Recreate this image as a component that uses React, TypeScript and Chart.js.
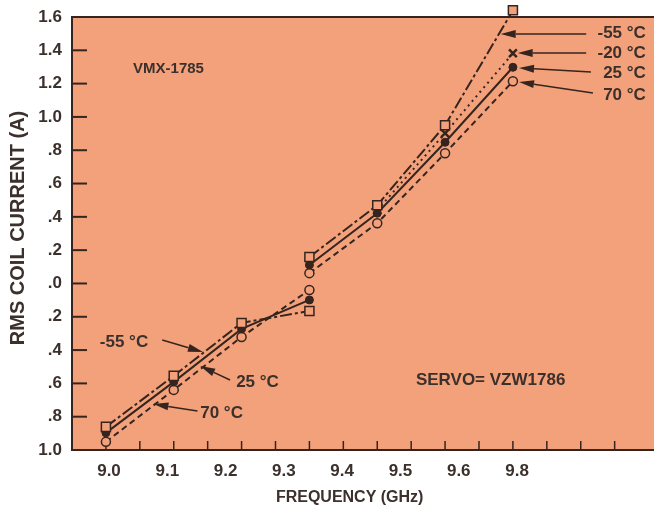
import React, { useEffect, useRef } from 'react';
import { Chart, registerables } from 'chart.js';

Chart.register(...registerables);

// ---- data (y values are positions on the printed axis, which runs 1.0 … .0 … 1.6) ----
const frequencies = [9.0, 9.1, 9.2, 9.3, 9.3, 9.3, 9.4, 9.5, 9.6];
const currentMinus55 = [-0.861, -0.555, -0.237, -0.165, null, 0.159, 0.47, 0.95, 1.64];
const currentMinus20 = [null, null, null, null, null, null, 0.44, 0.902, 1.382];
const current25 = [-0.897, -0.591, -0.273, -0.099, null, 0.111, 0.422, 0.848, 1.298];
const current70 = [-0.951, -0.639, -0.321, -0.039, null, 0.062, 0.362, 0.782, 1.214];

const xTickValues = [9.0, 9.05, 9.1, 9.15, 9.2, 9.25, 9.3, 9.35, 9.4, 9.45, 9.5, 9.55, 9.6, 9.65, 9.7, 9.75];
const xLabelValues = [9.0, 9.1, 9.2, 9.3, 9.4, 9.5, 9.6, 9.7];
const xLabelTexts = ['9.0', '9.1', '9.2', '9.3', '9.4', '9.5', '9.6', '9.8'];
const yTickValues = [-1.0, -0.8, -0.6, -0.4, -0.2, 0.0, 0.2, 0.4, 0.6, 0.8, 1.0, 1.2, 1.4, 1.6];
const yTickLabels = ['1.0', '.8', '.6', '.4', '.2', '.0', '.2', '.4', '.6', '.8', '1.0', '1.2', '1.4', '1.6'];

const ink = '#36241f';
const textInk = '#3b302c';
const plotBg = '#F2A17B';
const family = '"Liberation Sans", Arial, Helvetica, sans-serif';

// annotation anchors in data coordinates
const noteTexts = [
  { text: 'VMX-1785', x: 9.04, y: 1.288, align: 'left', size: 15 },
  { text: 'SERVO= VZW1786', x: 9.457, y: -0.58, align: 'left', size: 17 },
  { text: '-55 °C', x: 9.796, y: 1.504, align: 'right', size: 17 },
  { text: '-20 °C', x: 9.796, y: 1.384, align: 'right', size: 17 },
  { text: '25 °C', x: 9.796, y: 1.264, align: 'right', size: 17 },
  { text: '70 °C', x: 9.796, y: 1.132, align: 'right', size: 17 },
  { text: '-55 °C', x: 8.991, y: -0.352, align: 'left', size: 17 },
  { text: '25 °C', x: 9.192, y: -0.592, align: 'left', size: 17 },
  { text: '70 °C', x: 9.139, y: -0.778, align: 'left', size: 17 },
];
const noteArrows = [
  { x1: 9.708, y1: 1.498, x2: 9.582, y2: 1.498 },
  { x1: 9.708, y1: 1.384, x2: 9.607, y2: 1.384 },
  { x1: 9.715, y1: 1.27, x2: 9.609, y2: 1.294 },
  { x1: 9.718, y1: 1.144, x2: 9.609, y2: 1.21 },
  { x1: 9.083, y1: -0.34, x2: 9.143, y2: -0.412 },
  { x1: 9.183, y1: -0.58, x2: 9.139, y2: -0.496 },
  { x1: 9.135, y1: -0.766, x2: 9.07, y2: -0.724 },
];

const toPoints = (ys: (number | null)[]) => frequencies.map((f, i) => ({ x: f, y: ys[i] }));

const noPadding = (s: any) => {
  s.paddingLeft = 0;
  s.paddingRight = 0;
  s.paddingTop = 0;
  s.paddingBottom = 0;
};

const framePlugin = {
  id: 'frame',
  beforeDraw(chart: any) {
    const { ctx, chartArea: a, width, height } = chart;
    ctx.save();
    ctx.fillStyle = '#ffffff';
    ctx.fillRect(0, 0, width, height);
    ctx.fillStyle = plotBg;
    ctx.fillRect(a.left, a.top, a.right - a.left, a.bottom - a.top);
    ctx.restore();
  },
  beforeDatasetsDraw(chart: any) {
    const { ctx, chartArea: a, scales } = chart;
    ctx.save();
    ctx.strokeStyle = ink;
    ctx.lineWidth = 2;
    ctx.beginPath();
    ctx.moveTo(a.left - 1, a.top);
    ctx.lineTo(a.right, a.top);
    ctx.stroke();
    ctx.lineWidth = 1.5;
    scales.x.ticks.forEach((t: any) => {
      const px = scales.x.getPixelForValue(t.value);
      ctx.beginPath();
      ctx.moveTo(px, a.bottom);
      ctx.lineTo(px, a.bottom - 9);
      ctx.stroke();
    });
    ctx.lineWidth = 2;
    scales.y.ticks.forEach((t: any) => {
      const py = scales.y.getPixelForValue(t.value);
      if (py <= a.top + 1 || py >= a.bottom - 1) return;
      ctx.beginPath();
      ctx.moveTo(a.left, py);
      ctx.lineTo(a.left + 15, py);
      ctx.stroke();
    });
    ctx.restore();
  },
  afterDraw(chart: any) {
    const { ctx, scales } = chart;
    const X = (v: number) => scales.x.getPixelForValue(v);
    const Y = (v: number) => scales.y.getPixelForValue(v);
    ctx.save();
    ctx.fillStyle = textInk;
    ctx.textBaseline = 'middle';
    noteTexts.forEach((n) => {
      ctx.font = `bold ${n.size}px ${family}`;
      ctx.textAlign = n.align;
      ctx.fillText(n.text, X(n.x), Y(n.y));
    });
    ctx.strokeStyle = ink;
    ctx.fillStyle = ink;
    ctx.lineWidth = 1.5;
    noteArrows.forEach((r) => {
      const x1 = X(r.x1), y1 = Y(r.y1), x2 = X(r.x2), y2 = Y(r.y2);
      const ang = Math.atan2(y2 - y1, x2 - x1);
      const len = 15, hw = 4;
      const bx = x2 - len * Math.cos(ang), by = y2 - len * Math.sin(ang);
      ctx.beginPath();
      ctx.moveTo(x1, y1);
      ctx.lineTo(bx, by);
      ctx.stroke();
      ctx.beginPath();
      ctx.moveTo(x2, y2);
      ctx.lineTo(bx + hw * Math.sin(ang), by - hw * Math.cos(ang));
      ctx.lineTo(bx - hw * Math.sin(ang), by + hw * Math.cos(ang));
      ctx.closePath();
      ctx.fill();
    });
    ctx.restore();
  },
};

export default function App() {
  const canvasRef = useRef<HTMLCanvasElement | null>(null);

  useEffect(() => {
    const canvas = canvasRef.current;
    if (!canvas) return;
    const common = {
      xAxisID: 'x',
      yAxisID: 'y',
      borderColor: ink,
      borderWidth: 2,
      tension: 0,
      spanGaps: false,
      clip: false as any,
      pointBorderColor: ink,
    };
    const chart = new Chart(canvas, {
      type: 'line',
      data: {
        datasets: [
          {
            ...common,
            label: '-55 °C',
            data: toPoints(currentMinus55),
            borderDash: [12, 3, 3, 3],
            pointStyle: 'rect',
            pointRadius: 6.4,
            pointBorderWidth: 1.5,
            pointBackgroundColor: plotBg,
          },
          {
            ...common,
            label: '-20 °C',
            data: toPoints(currentMinus20),
            borderDash: [2, 4],
            pointStyle: 'crossRot',
            pointRadius: 5.5,
            pointBorderWidth: 2.5,
            pointBackgroundColor: ink,
          },
          {
            ...common,
            label: '25 °C',
            data: toPoints(current25),
            pointStyle: 'circle',
            pointRadius: 4,
            pointBorderWidth: 1,
            pointBackgroundColor: ink,
          },
          {
            ...common,
            label: '70 °C',
            data: toPoints(current70),
            borderDash: [6, 4],
            pointStyle: 'circle',
            pointRadius: 4.5,
            pointBorderWidth: 1.5,
            pointBackgroundColor: plotBg,
          },
        ],
      },
      options: {
        responsive: false,
        animation: false,
        events: [],
        layout: { autoPadding: false, padding: { top: 17, right: 0, bottom: 0, left: 0 } },
        plugins: { legend: { display: false }, tooltip: { enabled: false } },
        scales: {
          x: {
            type: 'linear',
            position: 'bottom',
            min: 8.95,
            max: 9.808,
            afterBuildTicks: (s: any) => {
              s.ticks = xTickValues.map((v) => ({ value: v }));
            },
            afterFit: (s: any) => {
              s.height = 0;
              noPadding(s);
            },
            ticks: { display: false },
            grid: { display: true, drawOnChartArea: false, drawTicks: false },
            border: { display: true, color: ink, width: 2 },
          },
          xl: {
            type: 'linear',
            position: 'bottom',
            min: 8.9365,
            max: 9.935,
            afterBuildTicks: (s: any) => {
              s.ticks = xLabelValues.map((v) => ({ value: v }));
            },
            afterFit: (s: any) => {
              s.height = 61;
              noPadding(s);
            },
            ticks: {
              autoSkip: false,
              maxRotation: 0,
              padding: 11,
              color: textInk,
              font: { family, size: 17, weight: 'bold' },
              callback: (_v: any, i: number) => xLabelTexts[i],
            },
            grid: { display: true, drawOnChartArea: false, drawTicks: false },
            border: { display: false },
            title: {
              display: true,
              text: 'FREQUENCY (GHz)      ',
              color: textInk,
              font: { family, size: 16, weight: 'bold' },
              padding: { top: 0, bottom: 4 },
            },
          },
          y: {
            type: 'linear',
            position: 'left',
            min: -1.0,
            max: 1.6,
            afterBuildTicks: (s: any) => {
              s.ticks = yTickValues.map((v) => ({ value: v }));
            },
            afterFit: (s: any) => {
              s.width = 72;
              noPadding(s);
            },
            ticks: {
              autoSkip: false,
              padding: 10,
              color: textInk,
              font: { family, size: 17, weight: 'bold' },
              callback: (_v: any, i: number) => yTickLabels[i],
            },
            grid: { display: true, drawOnChartArea: false, drawTicks: false },
            border: { display: true, color: ink, width: 2 },
            title: {
              display: true,
              text: '  RMS COIL CURRENT (A)',
              color: textInk,
              font: { family, size: 20, weight: 'bold' },
              padding: { top: 6, bottom: 0 },
            },
          },
        },
      } as any,
      plugins: [framePlugin as any],
    });
    return () => chart.destroy();
  }, []);

  return (
    <div style={{ position: 'absolute', left: 0, top: 0, width: 654, height: 511, background: '#ffffff' }}>
      <canvas ref={canvasRef} width={654} height={511} style={{ display: 'block' }} />
    </div>
  );
}
